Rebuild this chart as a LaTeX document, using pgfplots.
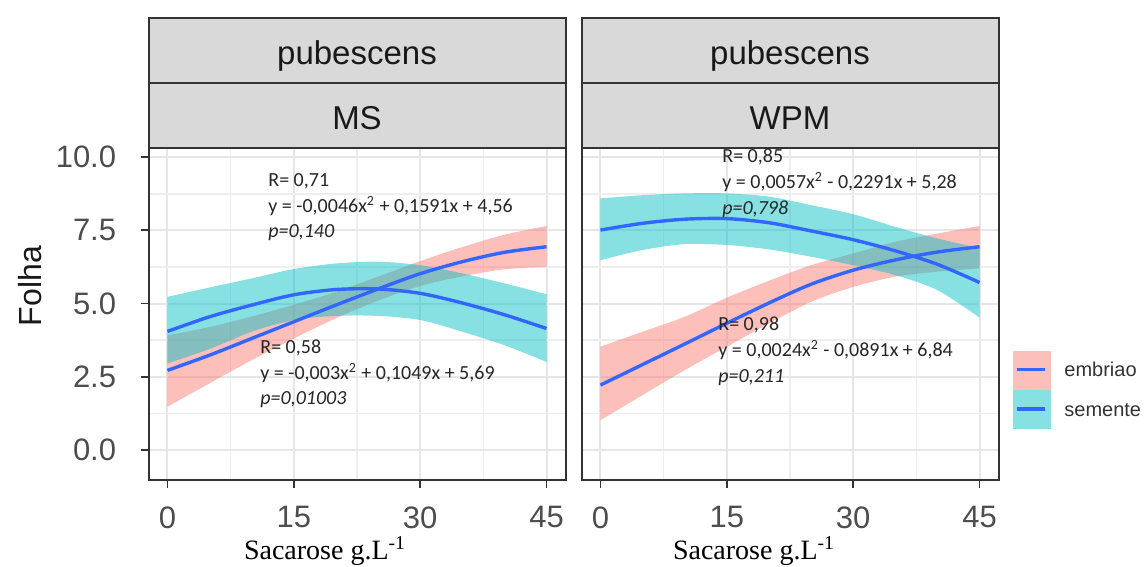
\documentclass[border=0pt]{standalone}
\usepackage{fontspec}
\setmainfont{Liberation Sans}
\newfontfamily\calibri{Carlito}
\newfontfamily\timesf{Liberation Serif}
\usepackage{pgfplots}
\usepackage{pgfplotstable}
\usepgfplotslibrary{fillbetween}
\pgfplotsset{compat=1.18}
\definecolor{embF}{HTML}{F8766D}
\definecolor{semF}{HTML}{00BFC4}
\definecolor{lineB}{HTML}{3366FF}
\definecolor{gridMaj}{HTML}{E6E6E6}
\definecolor{gridMin}{HTML}{EEEEEE}
\definecolor{stripF}{HTML}{D9D9D9}
\definecolor{dark}{HTML}{333333}
\definecolor{tickT}{HTML}{4D4D4D}
\definecolor{annT}{HTML}{262626}

% MS, embriao
\pgfplotstableread{
x  fit  lo   hi
0  2.72 1.48 3.92
5  3.24 2.28 4.20
10 3.81 3.07 4.56
15 4.38 3.81 4.96
20 4.95 4.50 5.40
25 5.50 5.10 5.92
30 6.02 5.60 6.45
35 6.43 5.93 6.93
40 6.75 6.17 7.35
45 6.94 6.25 7.65
}\msemb
% MS, semente
\pgfplotstableread{
x  fit  lo   hi
0  4.05 2.96 5.23
5  4.55 3.45 5.55
10 4.95 4.04 5.86
15 5.30 4.44 6.18
20 5.48 4.58 6.37
25 5.50 4.58 6.43
30 5.35 4.44 6.31
35 5.02 4.04 6.03
40 4.62 3.58 5.69
45 4.15 3.01 5.32
}\mssem
% WPM, embriao
\pgfplotstableread{
x  fit  lo   hi
0  2.22 1.02 3.53
5  2.92 1.88 4.04
10 3.62 2.73 4.55
15 4.33 3.53 5.20
20 5.02 4.32 5.78
25 5.66 5.06 6.31
30 6.14 5.57 6.71
35 6.49 5.92 7.11
40 6.76 6.09 7.39
45 6.94 6.20 7.65
}\wpmemb
% WPM, semente
\pgfplotstableread{
x  fit  lo   hi
0  7.51 6.48 8.59
5  7.74 6.83 8.70
10 7.88 7.03 8.76
15 7.90 7.00 8.76
20 7.76 6.85 8.65
25 7.48 6.60 8.36
30 7.18 6.31 8.05
35 6.80 5.97 7.62
40 6.34 5.46 7.22
45 5.72 4.52 6.90
}\wpmsem

\pgfplotsset{facet/.style={
  scale only axis, width=208.5pt, height=166pt,
  xmin=-2.25, xmax=47.25, ymin=-1.02, ymax=10.31,
  xtick={0,15,30,45}, ytick={0,2.5,5,7.5,10},
  minor xtick={7.5,22.5,37.5}, minor ytick={1.25,3.75,6.25,8.75},
  grid=both,
  major grid style={draw=gridMaj, line width=1pt},
  minor grid style={draw=gridMin, line width=0.8pt},
  axis line style={draw=dark, line width=1pt},
  tick align=outside, tick pos=left,
  major tick length=4pt, minor tick length=0pt,
  tick style={draw=dark, line width=0.9pt},
  ticklabel style={font=\fontsize{15.5}{15.5}\selectfont, text=tickT},
  /pgf/number format/assume math mode=true,
  xticklabel style={inner sep=0pt, yshift=-9pt},
  yticklabel style={inner sep=0pt, xshift=-12pt, /pgf/number format/.cd, fixed, fixed zerofill, precision=1},
}}

\newcommand{\band}[2]{%
  \addplot[draw=none, smooth, name path=up] table[x=x, y=hi]{#1};
  \addplot[draw=none, smooth, name path=dn] table[x=x, y=lo]{#1};
  \addplot[fill=#2, fill opacity=0.47, draw=none] fill between[of=up and dn];
  \addplot[lineB, line width=1.7pt, smooth] table[x=x, y=fit]{#1};
}

\begin{document}
\begin{tikzpicture}
\begin{scope}[x=0.5pt, y=-0.5pt]
\useasboundingbox (0,0) rectangle (1147,565);
\end{scope}

\begin{axis}[facet, at={(74.25pt,-240pt)}, anchor=south west]
\band{\msemb}{embF}
\band{\mssem}{semF}
\end{axis}

\begin{axis}[facet, at={(290.75pt,-240pt)}, anchor=south west,
  yticklabels={}, ytick style={draw=none}]
\band{\wpmemb}{embF}
\band{\wpmsem}{semF}
\end{axis}

\begin{scope}[x=0.5pt, y=-0.5pt]
% strips
\foreach \xa/\xb/\lab in {148.5/565.5/MS, 581.5/998.5/WPM}{
  \draw[fill=stripF, draw=dark, line width=1pt] (\xa,18) rectangle (\xb,83);
  \draw[fill=stripF, draw=dark, line width=1pt] (\xa,83) rectangle (\xb,148);
  \node[anchor=base, text=black!90, font=\fontsize{16.5}{16.5}\selectfont, inner sep=0pt] at ({(\xa+\xb)/2},65) {pubescens};
  \node[anchor=base, text=black!90, font=\fontsize{16.5}{16.5}\selectfont, inner sep=0pt] at ({(\xa+\xb)/2},130) {\lab};
}
% axis titles
\node[rotate=90, font=\fontsize{16}{16}\selectfont, text=black!90, inner sep=0pt] at (30,286) {Folha};
\node[anchor=base, font=\timesf\fontsize{14}{14}\selectfont, inner sep=0pt] at (325,560) {Sacarose g.L\textsuperscript{-1}};
\node[anchor=base, font=\timesf\fontsize{14}{14}\selectfont, inner sep=0pt] at (754,560) {Sacarose g.L\textsuperscript{-1}};
% annotations
\begin{scope}[every node/.style={anchor=base west, inner sep=0pt, text=annT, font=\calibri\fontsize{10}{12}\selectfont}]
\node at (268,187) {R= 0,71};
\node at (268,213) {y = -0,0046x\textsuperscript{2} + 0,1591x + 4,56};
\node at (268,238) {\textit{p=0,140}};
\node at (260,354) {R= 0,58};
\node at (260,380) {y = -0,003x\textsuperscript{2} + 0,1049x + 5,69};
\node at (260,405) {\textit{p=0,01003}};
\node at (722,163) {R= 0,85};
\node at (722,189) {y = 0,0057x\textsuperscript{2} - 0,2291x + 5,28};
\node at (722,215) {\textit{p=0,798}};
\node at (718,331) {R= 0,98};
\node at (718,357) {y = 0,0024x\textsuperscript{2} - 0,0891x + 6,84};
\node at (718,383) {\textit{p=0,211}};
\end{scope}
% legend
\fill[embF!47] (1012.7,350.7) rectangle (1050.7,390);
\fill[semF!47] (1012.7,390) rectangle (1050.7,429.3);
\draw[lineB, line width=1.7pt] (1016.7,369.3) -- (1045,369.3);
\draw[lineB, line width=1.7pt] (1016.7,409) -- (1045,409);
\node[anchor=west, inner sep=0pt, text=black!80, font=\fontsize{10}{10}\selectfont] at (1064,369) {embriao};
\node[anchor=west, inner sep=0pt, text=black!80, font=\fontsize{10}{10}\selectfont] at (1064,410) {semente};
\end{scope}
\end{tikzpicture}
\end{document}
